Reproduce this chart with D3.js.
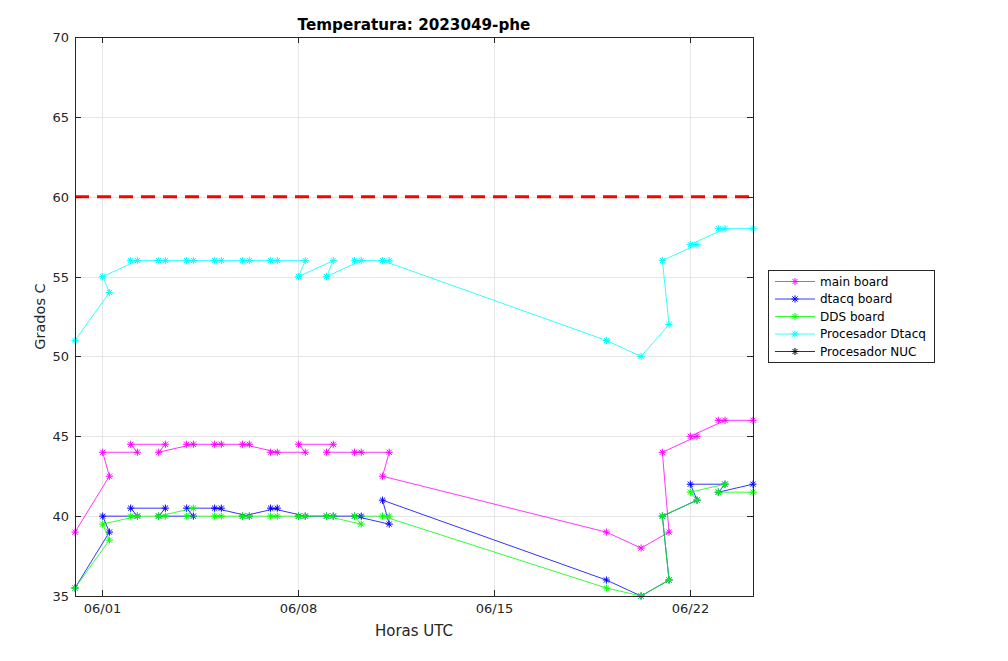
<!DOCTYPE html>
<html>
<head>
<meta charset="utf-8">
<script src="https://cdn.jsdelivr.net/npm/d3@7"></script>
<style>
  body { margin: 0; background: #fff; }
  svg { font-family: "DejaVu Sans", sans-serif; }
</style>
</head>
<body>
<svg id="chart" width="1008" height="661"></svg>
<script>
// Sample times (UTC), in the order they were logged
const times = [
  "2023-05-31 00:30",
  "2023-06-01 06:00", "2023-06-01 00:15",
  "2023-06-02 06:00", "2023-06-02 00:15",
  "2023-06-03 06:00", "2023-06-03 00:15",
  "2023-06-04 06:00", "2023-06-04 00:15",
  "2023-06-05 06:00", "2023-06-05 00:15",
  "2023-06-06 06:00", "2023-06-06 00:15",
  "2023-06-07 06:00", "2023-06-07 00:15",
  "2023-06-08 06:00", "2023-06-08 00:15",
  "2023-06-09 06:00", "2023-06-09 00:15",
  "2023-06-10 06:00", "2023-06-10 00:15",
  "2023-06-11 06:00", "2023-06-11 00:15",
  "2023-06-19 00:15",
  "2023-06-20 06:00",
  "2023-06-21 06:00", "2023-06-21 00:15",
  "2023-06-22 06:00", "2023-06-22 00:15",
  "2023-06-23 06:00", "2023-06-23 00:15",
  "2023-06-24 06:00"
];

const mainBoard = [39, 42.5, 44, 44, 44.5, 44.5, 44, 44.5, 44.5, 44.5, 44.5, 44.5, 44.5,
  44, 44, 44, 44.5, 44.5, 44, 44, 44, 44, 42.5, 39, 38, 39, 44, 45, 45, 46, 46, 46];
const dtacqBoard = [35.5, 39, 40, 40, 40.5, 40.5, 40, 40, 40.5, 40.5, 40.5, 40, 40,
  40.5, 40.5, 40, 40, 40, 40, 40, 40, 39.5, 41, 36, 35, 36, 40, 41, 42, 42, 41.5, 42];
const ddsBoard = [35.5, 38.5, 39.5, 40, 40, 40, 40, 40.5, 40, 40, 40, 40, 40,
  40, 40, 40, 40, 40, 40, 39.5, 40, 40, 40, 35.5, 35, 36, 40, 41, 41.5, 42, 41.5, 41.5];
const procDtacq = [51, 54, 55, 56, 56, 56, 56, 56, 56, 56, 56, 56, 56,
  56, 56, 56, 55, 56, 55, 56, 56, 56, 56, 51, 50, 52, 56, 57, 57, 58, 58, 58];
const procNUC = []; // no readings

const seriesNames = ["main board", "dtacq board", "DDS board", "Procesador Dtacq", "Procesador NUC"];
const seriesColors = ["#ff00ff", "#0000ff", "#00ff00", "#00ffff", "#000000"];
const seriesValues = [mainBoard, dtacqBoard, ddsBoard, procDtacq, procNUC];

const limitValue = 60;
const yTicks = [35, 40, 45, 50, 55, 60, 65, 70];
const xTickDates = ["2023-06-01", "2023-06-08", "2023-06-15", "2023-06-22"];
const xTickLabels = ["06/01", "06/08", "06/15", "06/22"];

const parseTime = d3.utcParse("%Y-%m-%d %H:%M");
const parseDay = d3.utcParse("%Y-%m-%d");
const tms = times.map(parseTime);

// Plot box
const plotLeft = 75, plotRight = 753, plotTop = 37, plotBottom = 596;
const axisColor = "#262626";

const svg = d3.select("#chart");

const x = d3.scaleUtc().domain(d3.extent(tms)).range([plotLeft, plotRight]);
const y = d3.scaleLinear().domain([35, 70]).range([plotBottom, plotTop]);

// Grid
const grid = svg.append("g").attr("stroke", "#e6e6e6").attr("stroke-width", 1);
xTickDates.forEach((d) => {
  const px = Math.round(x(parseDay(d))) + 0.5;
  grid.append("line").attr("x1", px).attr("x2", px).attr("y1", plotTop).attr("y2", plotBottom);
});
yTicks.forEach((v) => {
  const py = Math.round(y(v)) + 0.5;
  grid.append("line").attr("x1", plotLeft).attr("x2", plotRight).attr("y1", py).attr("y2", py);
});

// Limit line
svg.append("line")
  .attr("x1", plotLeft).attr("x2", plotRight)
  .attr("y1", y(limitValue)).attr("y2", y(limitValue))
  .attr("stroke", "#ff0000")
  .attr("stroke-width", 3)
  .attr("stroke-dasharray", "14,8");

// Asterisk marker
function star(g, cx, cy, color) {
  const r = 3.6, k = r * 0.72;
  const p = `M${cx - r},${cy}H${cx + r}M${cx},${cy - r}V${cy + r}` +
    `M${cx - k},${cy - k}L${cx + k},${cy + k}M${cx - k},${cy + k}L${cx + k},${cy - k}`;
  g.append("path").attr("d", p).attr("stroke", color).attr("stroke-width", 1).attr("fill", "none");
}

const line = d3.line()
  .defined((d) => d.v != null && !isNaN(d.v))
  .x((d) => x(d.t))
  .y((d) => y(d.v));

seriesValues.forEach((vals, i) => {
  const data = vals.map((v, j) => ({ t: tms[j], v: v }));
  const g = svg.append("g");
  g.append("path")
    .datum(data)
    .attr("d", line)
    .attr("fill", "none")
    .attr("stroke", seriesColors[i])
    .attr("stroke-width", 0.8);
  data.forEach((d) => star(g, x(d.t), y(d.v), seriesColors[i]));
});

// Axes box and ticks
const ax = svg.append("g").attr("stroke", axisColor).attr("stroke-width", 1);
ax.append("rect")
  .attr("x", plotLeft + 0.5).attr("y", plotTop + 0.5)
  .attr("width", plotRight - plotLeft).attr("height", plotBottom - plotTop)
  .attr("fill", "none");

const tickLen = 6;
xTickDates.forEach((d, i) => {
  const px = Math.round(x(parseDay(d))) + 0.5;
  ax.append("line").attr("x1", px).attr("x2", px).attr("y1", plotBottom).attr("y2", plotBottom - tickLen);
  ax.append("line").attr("x1", px).attr("x2", px).attr("y1", plotTop).attr("y2", plotTop + tickLen);
  svg.append("text")
    .attr("x", px).attr("y", plotBottom + 17)
    .attr("text-anchor", "middle")
    .attr("fill", axisColor)
    .style("font-size", "13px")
    .text(xTickLabels[i]);
});
yTicks.forEach((v) => {
  const py = Math.round(y(v)) + 0.5;
  ax.append("line").attr("x1", plotLeft).attr("x2", plotLeft + tickLen).attr("y1", py).attr("y2", py);
  ax.append("line").attr("x1", plotRight).attr("x2", plotRight - tickLen).attr("y1", py).attr("y2", py);
  svg.append("text")
    .attr("x", plotLeft - 6).attr("y", py)
    .attr("text-anchor", "end")
    .attr("dominant-baseline", "central")
    .attr("fill", axisColor)
    .style("font-size", "13px")
    .text(v);
});

// Title and labels
svg.append("text")
  .attr("x", (plotLeft + plotRight) / 2).attr("y", 30)
  .attr("text-anchor", "middle")
  .attr("fill", "#000")
  .style("font-size", "15.2px")
  .style("font-weight", "bold")
  .text("Temperatura: 2023049-phe");

svg.append("text")
  .attr("x", (plotLeft + plotRight) / 2).attr("y", 636)
  .attr("text-anchor", "middle")
  .attr("fill", axisColor)
  .style("font-size", "15px")
  .text("Horas UTC");

svg.append("text")
  .attr("transform", `translate(45,${(plotTop + plotBottom) / 2}) rotate(-90)`)
  .attr("text-anchor", "middle")
  .attr("fill", axisColor)
  .style("font-size", "14.5px")
  .text("Grados C");

// Legend
const legend = svg.append("g");
legend.append("rect")
  .attr("x", 768.5).attr("y", 270.5)
  .attr("width", 166).attr("height", 92)
  .attr("fill", "#fff")
  .attr("stroke", axisColor)
  .attr("stroke-width", 1);

seriesNames.forEach((name, i) => {
  const ly = 281.5 + i * 17.5;
  legend.append("line")
    .attr("x1", 775).attr("x2", 815)
    .attr("y1", ly).attr("y2", ly)
    .attr("stroke", seriesColors[i])
    .attr("stroke-width", 0.8);
  star(legend, 795, ly, seriesColors[i]);
  legend.append("text")
    .attr("x", 820).attr("y", ly)
    .attr("dominant-baseline", "central")
    .attr("fill", "#000")
    .style("font-size", "12px")
    .text(name);
});
</script>
</body>
</html>
